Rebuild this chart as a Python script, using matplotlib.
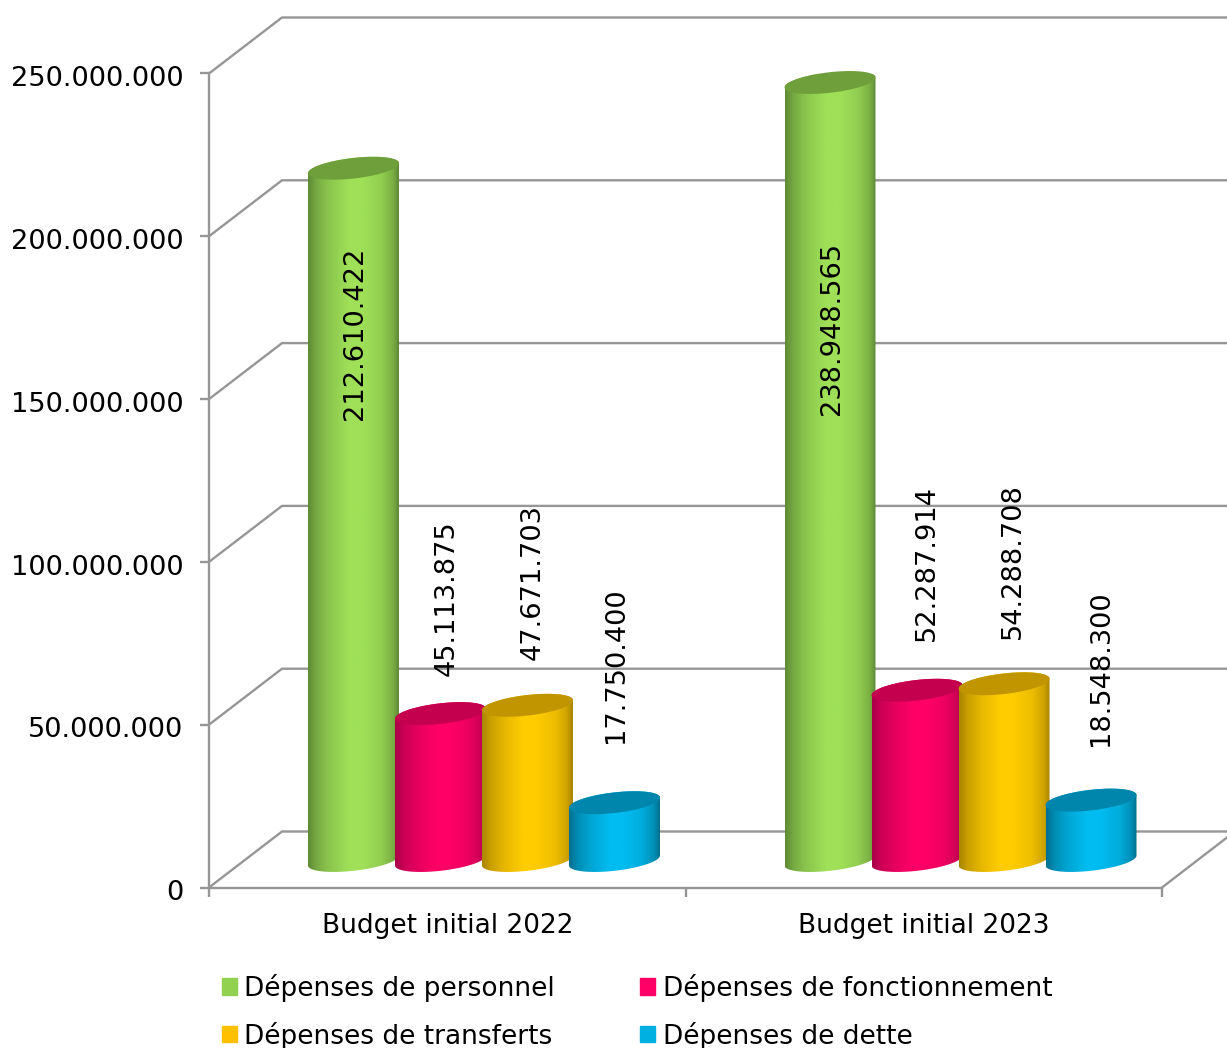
import matplotlib
matplotlib.use("Agg")
import matplotlib.pyplot as plt
import numpy as np
from matplotlib.colors import to_rgb
from matplotlib.patches import Patch, Polygon
from matplotlib.ticker import FuncFormatter
from matplotlib.transforms import ScaledTranslation

categories = ["Budget initial 2022", "Budget initial 2023"]
series_names = ["Dépenses de personnel", "Dépenses de fonctionnement",
                "Dépenses de transferts", "Dépenses de dette"]
personnel = [212610422, 238948565]
fonctionnement = [45113875, 52287914]
transferts = [47671703, 54288708]
dette = [17750400, 18548300]
series = [personnel, fonctionnement, transferts, dette]
y_ticks = [0, 50000000, 100000000, 150000000, 200000000, 250000000]

# edge, highlight, top face, legend
palette = [("#5f8a35", "#9fe058", "#6f9f3b", "#92d050"),
           ("#a80048", "#ff0066", "#c4004e", "#ff0066"),
           ("#a98400", "#ffcc00", "#c09500", "#ffc000"),
           ("#00708f", "#00bcf0", "#0086ac", "#00b0e0")]
# label offset from the bar top, in pixels (the original places them unevenly)
label_dy = [[-165, -246], [115, 127], [123, 123], [138, 132]]
label_dx = [[2, 2], [6, 10], [5, 9], [2, 10]]

W, H = 1227, 1048
LEFT, RIGHT, TOP, BOTTOM = 209, 1162, 73.5, 887.5
GREY = "#969696"
FONT = 19.6

fig = plt.figure(figsize=(W / 100, H / 100), dpi=100)
ax = fig.add_axes([LEFT / W, 1 - BOTTOM / H, (RIGHT - LEFT) / W, (BOTTOM - TOP) / H])
ax.set_xlim(0, 2)
ax.set_ylim(0, 250000000)

# pixel -> data sizes
sx = 2 / (RIGHT - LEFT)
sy = 250000000 / (BOTTOM - TOP)
depth_x, depth_y = 73 * sx, 56 * sy

# walls
for v in y_ticks:
    ax.plot([0, depth_x, 2 + 65 * sx], [v, v + depth_y, v + depth_y], color=GREY, lw=1.7,
            clip_on=False, zorder=1, solid_joinstyle="miter")
ax.plot([2, 2 + 65 * sx], [0, 50 * sy], color=GREY, lw=1.7, clip_on=False, zorder=1)

for s in ["top", "right"]:
    ax.spines[s].set_visible(False)
for s in ["left", "bottom"]:
    ax.spines[s].set_color(GREY)
    ax.spines[s].set_linewidth(1.7)
ax.set_yticks(y_ticks)
ax.yaxis.set_major_formatter(FuncFormatter(lambda v, p: f"{int(v):,}".replace(",", ".")))
ax.tick_params(axis="y", length=6.5, width=1.7, color=GREY, pad=12, labelsize=FONT)
for lab in ax.get_yticklabels():
    lab.set_transform(lab.get_transform() + ScaledTranslation(0, -2 / 72, fig.dpi_scale_trans))
ax.set_xticks([0, 1, 2])
ax.set_xticklabels([])
ax.set_xticks([0.5, 1.5], categories, minor=True)
ax.tick_params(axis="x", which="major", length=6.5, width=1.7, color=GREY)
ax.tick_params(axis="x", which="minor", length=0, pad=18.5, labelsize=19)
ax.patch.set_alpha(0)


def ellipse(cx, cy, t):
    a, b, shear = 45.5 * sx, 10.3 * sy, 0.11
    return cx + a * np.cos(t), cy + b * np.sin(t) + shear * 45.5 * np.cos(t) * sy


def cylinder(cx, value, colours, z):
    edge, light, top_c, _ = colours
    base = 27 * sy
    top = base + value
    low = np.linspace(np.pi, 2 * np.pi, 60)
    up = np.linspace(0, np.pi, 60)
    xb, yb = ellipse(cx, base, low)
    xt, yt = ellipse(cx, top, up)
    body = Polygon(np.column_stack([np.r_[xb, xt], np.r_[yb, yt]]), closed=True,
                   transform=ax.transData, fc="none", ec="none")
    ax.add_patch(body)
    e, l = np.array(to_rgb(edge)), np.array(to_rgb(light))
    stops = [0, 0.1, 0.25, 0.45, 0.6, 0.8, 0.93, 1]
    mix = [0, 0.4, 0.72, 1, 1, 0.8, 0.45, 0]
    pos = np.linspace(0, 1, 200)
    m = np.interp(pos, stops, mix)[:, np.newaxis]
    grad = e * (1 - m) + l * m
    im = ax.imshow(grad[np.newaxis, :, :], aspect="auto", zorder=z, interpolation="bilinear",
                   extent=[cx - 45.5 * sx, cx + 45.5 * sx, yb.min(), yt.max()])
    im.set_clip_path(body)
    xa, ya = ellipse(cx, top, np.linspace(0, 2 * np.pi, 120))
    ax.fill(xa, ya, color=top_c, lw=0, zorder=z + 0.1, clip_on=False)


step = 87 * sx
for i in range(len(categories)):
    for j, vals in enumerate(series):
        cx = i + 144.5 * sx + j * step
        cylinder(cx, vals[i], palette[j], 3 + j)
        ax.annotate(f"{vals[i]:,}".replace(",", "."), xy=(cx, 27 * sy + vals[i]),
                    xytext=(label_dx[j][i] * 0.72, label_dy[j][i] * 0.72),
                    textcoords="offset points", rotation=90, ha="center", va="center",
                    fontsize=FONT, zorder=10, annotation_clip=False)

ax.set_xlim(0, 2)
ax.set_ylim(0, 250000000)

handles = [Patch(color=c[3]) for c in palette]
# ncol fills by column, so order follows rows of the reference
fig.legend([handles[0], handles[2], handles[1], handles[3]],
           [series_names[0], series_names[2], series_names[1], series_names[3]],
           ncol=2, frameon=False, fontsize=19, loc="lower left",
           bbox_to_anchor=(221.5 / W, 1 - 1049.5 / H), borderpad=0, borderaxespad=0,
           handlelength=0.57, handleheight=0.57, handletextpad=0.27,
           columnspacing=3.26, labelspacing=0.75)

fig.savefig("out.png", dpi=100)
